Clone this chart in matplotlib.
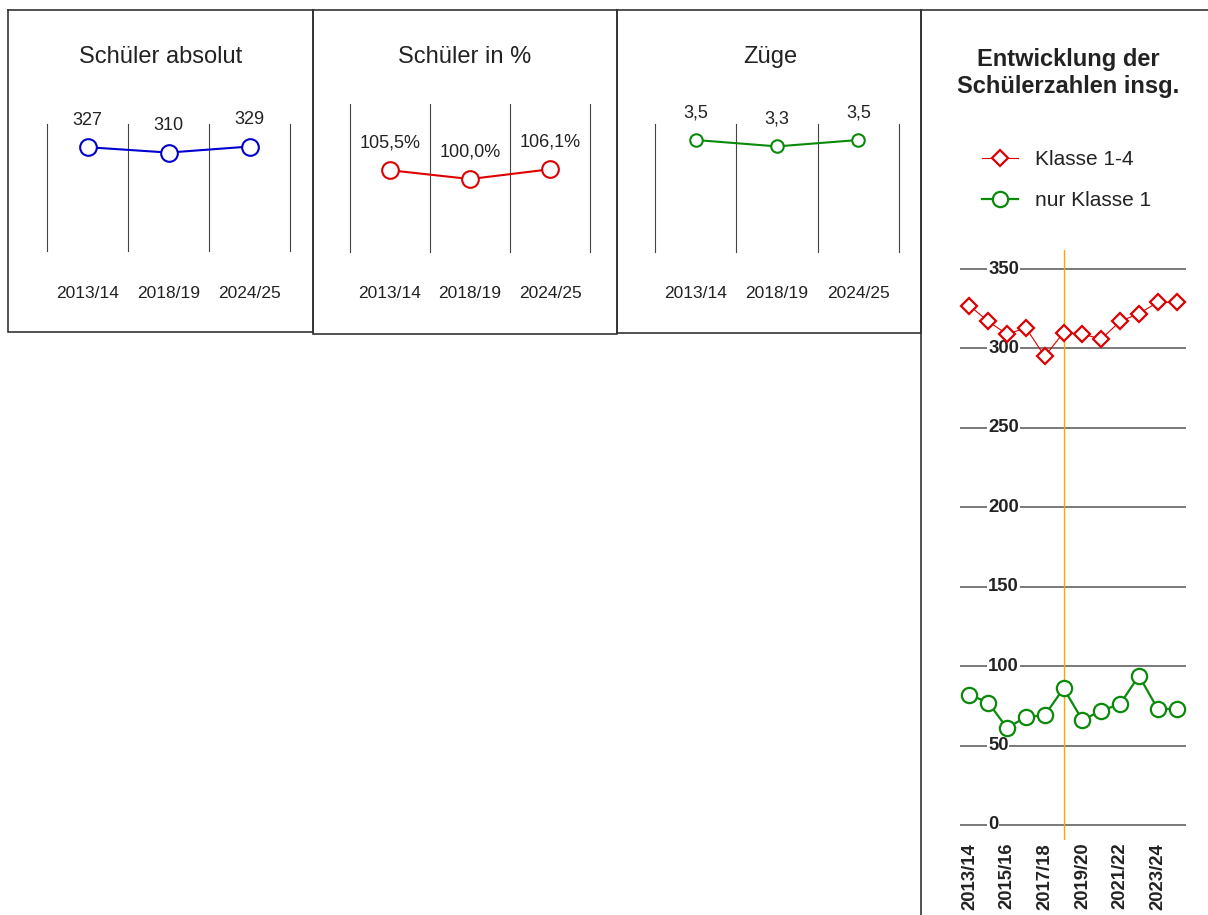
import matplotlib
matplotlib.use("Agg")
import matplotlib.pyplot as plt
from matplotlib.transforms import blended_transform_factory

# ---- data -------------------------------------------------------------
periods_short = ["2013/14", "2018/19", "2024/25"]
pupils_abs = [327, 310, 329]
pupils_pct = [105.5, 100.0, 106.1]
streams = [3.5, 3.3, 3.5]

periods_long = ["2013/14", "2014/15", "2015/16", "2016/17", "2017/18", "2018/19",
                "2019/20", "2020/21", "2021/22", "2022/23", "2023/24", "2024/25"]
grades_1_4 = [327, 317, 309, 313, 295, 310, 309, 306, 317, 322, 329, 329]
grade_1 = [82, 77, 61, 68, 69, 86, 66, 72, 76, 94, 73, 73]
y_ticks = [0, 50, 100, 150, 200, 250, 300, 350]
reference_period = "2018/19"

# ---- styling ----------------------------------------------------------
W, H = 1208, 915
REG = ["Liberation Sans", "DejaVu Sans"]
TXT = "#222222"
BORDER = "#333333"
BLUE = "#0000CC"
RED = "#DD0000"
GREEN = "#0A8A0A"
ORANGE = "#FFA500"

fig = plt.figure(figsize=(W / 100, H / 100), dpi=100)
fig.patch.set_facecolor("white")

# full-size canvas in pixel units for frames and titles
bg = fig.add_axes([0, 0, 1, 1], zorder=0)
bg.set_xlim(0, W)
bg.set_ylim(H, 0)
bg.axis("off")


def px_axes(x0, y0, x1, y1):
    return fig.add_axes([x0 / W, 1 - y1 / H, (x1 - x0) / W, (y1 - y0) / H], zorder=2)


def frame(x0, y0, x1, y1):
    bg.plot([x0, x1, x1, x0, x0], [y0, y0, y1, y1, y0], color=BORDER, lw=1.2,
            solid_joinstyle="miter")


# panel frames
frame(8, 10, 313, 332)
frame(313, 10, 617, 334)
frame(617, 10, 921, 333)
bg.plot([921, W], [10, 10], color=BORDER, lw=1.2)
bg.plot([921, 921], [10, H], color=BORDER, lw=1.2)


def small_panel(box, values, ylim, color, ms, fmt, title, title_x):
    x0, y0, x1, y1 = box
    ax = px_axes(x0, y0, x1, y1)
    ax.set_xlim(-0.5, len(values) - 0.5)
    ax.set_ylim(*ylim)
    for b in [i - 0.5 for i in range(len(values) + 1)]:
        ax.axvline(b, color="#444444", lw=0.8, clip_on=False)
    xs = list(range(len(values)))
    ax.plot(xs, values, color=color, lw=1.5, marker="o", ms=ms, mfc="white",
            mec=color, mew=1.5, clip_on=False, zorder=3)
    for i, v in enumerate(values):
        ax.annotate(fmt(v), (i, v), xytext=(0, 19.5), textcoords="offset points",
                    ha="center", va="center", fontsize=13, family=REG, color=TXT)
        ax.annotate(periods_short[i], (i, 0), xycoords=("data", "axes fraction"),
                    xytext=(0, -(294 - y1) / 1.389), textcoords="offset points",
                    ha="center", va="center", fontsize=12.5, family=REG, color=TXT)
    ax.set_xticks([])
    ax.set_yticks([])
    for s in ax.spines.values():
        s.set_visible(False)
    ax.patch.set_alpha(0)
    bg.text(title_x, 57, title, ha="center", va="center", fontsize=17,
            family=REG, color=TXT)
    return ax


small_panel((47, 124, 290, 251), pupils_abs, (0, 400), BLUE, 12,
            lambda v: f"{v:d}", "Schüler absolut", 161)
small_panel((350, 104, 590, 252), pupils_pct, (54.4, 146.9), RED, 12,
            lambda v: f"{v:.1f}%".replace(".", ","), "Schüler in %", 465)
small_panel((655, 124, 899, 252), streams, (0, 4), GREEN, 9,
            lambda v: f"{v:.1f}".replace(".", ","), "Züge", 770)

# ---- development chart -----------------------------------------------
bg.text(1068, 73, "Entwicklung der\nSchülerzahlen insg.", ha="center", va="center",
        fontsize=17, fontweight="bold", family=REG, color=TXT, linespacing=1.24)

ax = px_axes(960, 250, 1186, 840)
ax.set_xlim(-0.5, len(periods_long) - 0.5)
ax.set_ylim(-9.5, 362)
ax.patch.set_alpha(0)
for s in ax.spines.values():
    s.set_visible(False)

trans = blended_transform_factory(ax.transAxes, ax.transData)
for v in y_ticks:
    ax.axhline(v, color="#555555", lw=1.1, zorder=1)
    ax.text(0.124, v, str(v), transform=trans, ha="left", va="center",
            fontsize=13.3, fontweight="bold", family=REG, color=TXT, zorder=2,
            bbox=dict(facecolor="white", edgecolor="none", pad=0.6))

ax.axvline(periods_long.index(reference_period), color=ORANGE, lw=1.0, zorder=3)

xs = list(range(len(periods_long)))
l1, = ax.plot(xs, grades_1_4, color=RED, lw=0.8, marker="D", ms=8.5, mfc="white",
              mec=RED, mew=1.6, zorder=4, clip_on=False, label="Klasse 1-4")
l2, = ax.plot(xs, grade_1, color=GREEN, lw=1.6, marker="o", ms=11, mfc="white",
              mec=GREEN, mew=1.6, zorder=4, clip_on=False, label="nur Klasse 1")

ax.set_yticks([])
ax.set_xticks(xs[::2])
ax.set_xticklabels(periods_long[::2], rotation=90, fontsize=13.3,
                   fontweight="bold", family=REG, color=TXT)
ax.tick_params(axis="x", length=0, pad=2)

leg = ax.legend(handles=[l1, l2], loc="upper left",
                bbox_to_anchor=(982 / W, 1 - 150 / H), bbox_transform=fig.transFigure,
                frameon=False, borderpad=0, borderaxespad=0, handlelength=1.75,
                handletextpad=0.8, labelspacing=1.05, numpoints=1,
                prop=dict(family=REG, size=15))
for t in leg.get_texts():
    t.set_color(TXT)

fig.savefig("out.png", dpi=100, facecolor="white")
